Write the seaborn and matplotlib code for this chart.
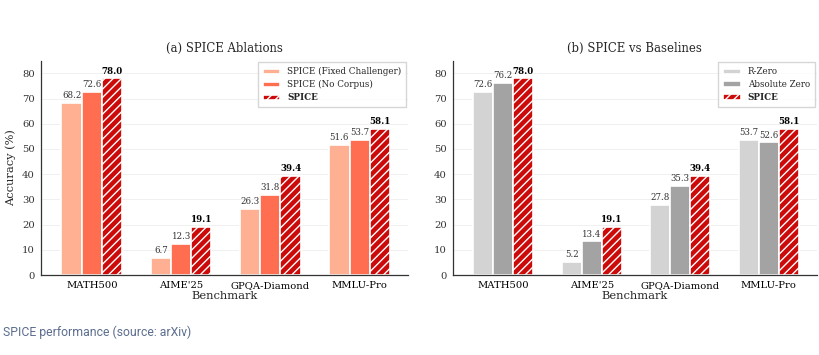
import pandas as pd
import seaborn as sns
import matplotlib.pyplot as plt

#///// Data
benchmarks = ['MATH500', "AIME'25", 'GPQA-Diamond', 'MMLU-Pro']
ablation_methods = ['SPICE (Fixed Challenger)', 'SPICE (No Corpus)', 'SPICE']
fixed_challenger = [68.2, 6.7, 26.3, 51.6]
no_corpus = [72.6, 12.3, 31.8, 53.7]
baseline_methods = ['R-Zero', 'Absolute Zero', 'SPICE']
r_zero = [72.6, 5.2, 27.8, 53.7]
absolute_zero = [76.2, 13.4, 35.3, 52.6]
spice = [78.0, 19.1, 39.4, 58.1]
yticks = list(range(0, 90, 10))

ablation_colors = ['#ffb093', '#ff6e50', '#cc0a0a']
baseline_colors = ['#d3d3d3', '#a3a3a3', '#cc0a0a']


def long_frame(methods, series):
    rows = []
    for m, vals in zip(methods, series):
        for b, v in zip(benchmarks, vals):
            rows.append({'Benchmark': b, 'Method': m, 'Accuracy': v})
    return pd.DataFrame(rows)


#///// Grouped bar panel
def panel(ax, methods, series, colors, title, ylabel):
    df = long_frame(methods, series)
    sns.barplot(data=df, x='Benchmark', y='Accuracy', hue='Method', hue_order=methods,
                palette=colors, width=0.68, edgecolor='white', linewidth=1.2,
                saturation=1, errorbar=None, ax=ax)
    # hatch the SPICE bars
    for bar in ax.containers[2]:
        bar.set_hatch('////')
    # value labels
    for i, cont in enumerate(ax.containers):
        weight = 'bold' if i == 2 else 'normal'
        color = 'black' if i == 2 else '#333333'
        ax.bar_label(cont, fmt='%.1f', padding=2, fontsize=6.2, fontweight=weight, color=color)
    ax.set_ylim(0, 85)
    ax.set_xlim(-0.57, 3.54)
    ax.set_yticks(yticks)
    ax.set_title(title, fontsize=8.4, pad=6)
    ax.set_xlabel('Benchmark', fontsize=8.2, labelpad=0.5)
    ax.set_ylabel(ylabel, fontsize=8.2, labelpad=4)
    ax.tick_params(axis='both', labelsize=7.2, length=2, pad=2.5, width=0.8, colors='#333333')
    ax.tick_params(axis='x', labelcolor='black')
    ax.tick_params(axis='y', labelcolor='#333333')
    ax.yaxis.grid(True, color='#eeeeee', linewidth=0.6)
    ax.set_axisbelow(True)
    for s in ['top', 'right']:
        ax.spines[s].set_visible(False)
    for s in ['left', 'bottom']:
        ax.spines[s].set_color('#333333')
        ax.spines[s].set_linewidth(0.9)
    # legend
    handles, labels = ax.get_legend_handles_labels()
    handles[2].set_hatch('////')
    handles[2].set_edgecolor('white')
    leg = ax.legend(handles, labels, loc='upper right', fontsize=6.3, frameon=True,
                    handlelength=2.0, handleheight=0.55, borderpad=0.55, labelspacing=0.45,
                    fancybox=False, edgecolor='#cccccc', borderaxespad=0.2)
    leg.get_texts()[2].set_fontweight('bold')


sns.set_style('white')
plt.rcParams['font.family'] = ['DejaVu Serif']
plt.rcParams['hatch.linewidth'] = 1.0

f = plt.figure(figsize=(8.19, 3.55), dpi=100)
ax1 = f.add_axes([0.05, 0.225, 0.448, 0.604])
ax2 = f.add_axes([0.553, 0.225, 0.444, 0.604])

panel(ax1, ablation_methods, [fixed_challenger, no_corpus, spice], ablation_colors,
      '(a) SPICE Ablations', 'Accuracy (%)')
panel(ax2, baseline_methods, [r_zero, absolute_zero, spice], baseline_colors,
      '(b) SPICE vs Baselines', '')

f.text(0.004, 0.065, 'SPICE performance (source: arXiv)', fontsize=8.8, color='#5b6d8f',
       family=['Roboto', 'DejaVu Sans'], ha='left', va='center')

plt.savefig('out.png', dpi=100)
